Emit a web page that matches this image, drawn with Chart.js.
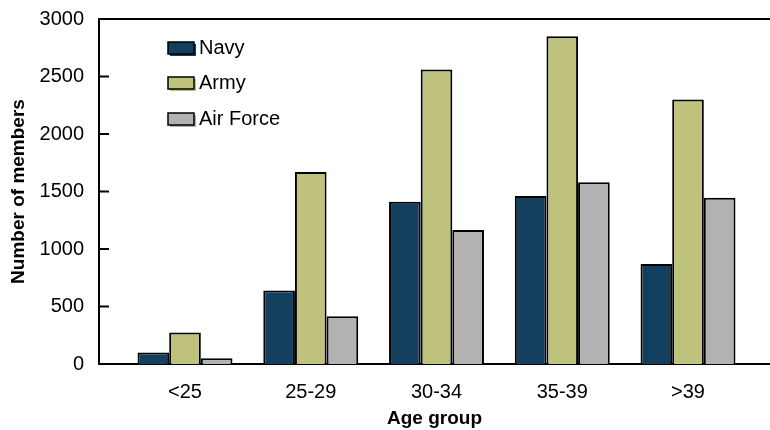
<!DOCTYPE html>
<html>
<head>
<meta charset="utf-8">
<script src="https://cdn.jsdelivr.net/npm/chart.js@4/dist/chart.umd.min.js"></script>
<style>
html,body{margin:0;padding:0;background:#fff;}
#wrap{width:770px;height:430px;position:relative;}
</style>
</head>
<body>
<div id="wrap"><canvas id="c" width="770" height="430"></canvas></div>
<script>
const categories = ['<25', '25-29', '30-34', '35-39', '>39'];
const navy = [100, 640, 1410, 1460, 870];
const army = [275, 1670, 2560, 2850, 2300];
const airForce = [50, 415, 1165, 1580, 1445];
const yTicks = [0, 500, 1000, 1500, 2000, 2500, 3000];
const seriesNames = ['Navy', 'Army', 'Air Force'];
const seriesColors = ['#12405E', '#BFC27C', '#B2B2B2'];

const FONT = '"Liberation Sans", Arial, sans-serif';
const toPoints = arr => arr.map((v, i) => ({x: i, y: v}));

const framePlugin = {
  id: 'frame',
  afterDraw(chart) {
    const ctx = chart.ctx, y = chart.scales.y, a = chart.chartArea;
    ctx.save();
    ctx.strokeStyle = '#000';
    ctx.lineWidth = 2;
    ctx.beginPath();
    ctx.moveTo(a.left, y.getPixelForValue(3000));
    ctx.lineTo(a.right, y.getPixelForValue(3000));
    ctx.stroke();
    yTicks.forEach(v => {
      const py = y.getPixelForValue(v);
      ctx.beginPath();
      ctx.moveTo(a.left, py);
      ctx.lineTo(a.left + 10, py);
      ctx.stroke();
    });
    const lx = 168, ly = [48, 83, 119];
    ctx.font = '20px ' + FONT;
    ctx.textBaseline = 'middle';
    ctx.textAlign = 'left';
    chart.data.datasets.forEach((ds, i) => {
      const by = ly[i] - 6;
      ctx.fillStyle = ds.backgroundColor;
      ctx.fillRect(lx + 2, by + 2, 26, 12);
      ctx.fillRect(lx, by, 26, 12);
      ctx.lineWidth = 1.5;
      ctx.strokeStyle = '#000';
      ctx.strokeRect(lx, by, 26, 12);
      ctx.fillStyle = '#000';
      ctx.fillText(ds.label, lx + 31, ly[i]);
    });
    ctx.restore();
  }
};

new Chart(document.getElementById('c'), {
  type: 'bar',
  data: {
    datasets: [
      {label: seriesNames[0], data: toPoints(navy), backgroundColor: seriesColors[0]},
      {label: seriesNames[1], data: toPoints(army), backgroundColor: seriesColors[1]},
      {label: seriesNames[2], data: toPoints(airForce), backgroundColor: seriesColors[2]}
    ]
  },
  options: {
    responsive: false,
    animation: false,
    layout: {padding: {top: 19, right: 0, left: 0, bottom: 0}},
    datasets: {bar: {borderColor: '#000', borderWidth: 2, categoryPercentage: 0.755, barPercentage: 1.0}},
    plugins: {legend: {display: false}, tooltip: {enabled: false}},
    scales: {
      x: {
        type: 'linear',
        offset: false,
        min: -0.684,
        max: 4.652,
        afterBuildTicks: s => { s.ticks = categories.map((c, i) => ({value: i})); },
        afterFit: s => { s.height = 66; s.paddingLeft = 0; s.paddingRight = 0; },
        grid: {display: false, drawTicks: false},
        border: {display: true, color: '#000', width: 2},
        ticks: {
          callback: v => categories[v] ?? '',
          color: '#000',
          font: {family: FONT, size: 20},
          padding: 16,
          autoSkip: false,
          maxRotation: 0
        },
        title: {display: true, text: 'Age group', color: '#000', font: {family: FONT, size: 19, weight: 'bold'}, padding: {top: 0, bottom: 0}}
      },
      y: {
        min: 0,
        max: 3000,
        afterBuildTicks: s => { s.ticks = yTicks.map(v => ({value: v})); },
        afterFit: s => { s.width = 99; s.paddingTop = 0; s.paddingBottom = 0; },
        grid: {display: false, drawTicks: false},
        border: {display: true, color: '#000', width: 2},
        ticks: {callback: v => String(v), color: '#000', font: {family: FONT, size: 20}, padding: 15},
        title: {display: true, text: 'Number of members', color: '#000', font: {family: FONT, size: 19, weight: 'bold'}, padding: {top: 7, bottom: 0}}
      }
    }
  },
  plugins: [framePlugin]
});
</script>
</body>
</html>
